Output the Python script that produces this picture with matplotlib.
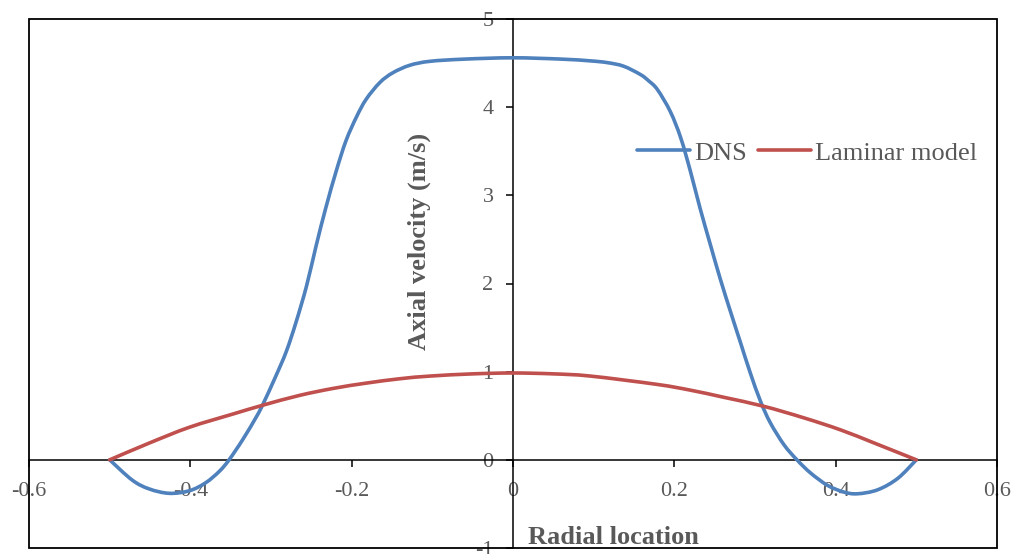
import matplotlib
matplotlib.use("Agg")
import matplotlib.pyplot as plt
from matplotlib.patches import Rectangle, PathPatch
from matplotlib.path import Path
from matplotlib.lines import Line2D
from matplotlib.ticker import FixedLocator, FixedFormatter

plt.rcParams["font.family"] = ["Liberation Serif", "DejaVu Serif"]
plt.rcParams["axes.unicode_minus"] = False

# DNS axial velocity profile
dns_r = [-0.500, -0.472, -0.451, -0.426, -0.401, -0.381, -0.364, -0.352, -0.335,
         -0.318, -0.310, -0.294, -0.281, -0.269, -0.256, -0.244, -0.232, -0.219,
         -0.207, -0.194, -0.182, -0.165, -0.149, -0.128, -0.103, -0.060, 0.000,
         0.060, 0.096, 0.117, 0.137, 0.158, 0.168, 0.179, 0.195, 0.208, 0.220,
         0.232, 0.245, 0.257, 0.270, 0.282, 0.294, 0.307, 0.319, 0.336, 0.352,
         0.369, 0.390, 0.410, 0.427, 0.452, 0.477, 0.500]
dns_u = [0.00, -0.23, -0.33, -0.38, -0.35, -0.26, -0.13, 0.00, 0.23,
         0.49, 0.63, 0.95, 1.23, 1.56, 1.97, 2.43, 2.86, 3.28,
         3.62, 3.89, 4.09, 4.28, 4.39, 4.475, 4.52, 4.545, 4.56,
         4.545, 4.525, 4.505, 4.465, 4.37, 4.30, 4.20, 3.95, 3.65, 3.27,
         2.85, 2.43, 2.05, 1.67, 1.33, 0.99, 0.66, 0.42, 0.17, 0.00,
         -0.15, -0.29, -0.365, -0.385, -0.34, -0.21, 0.00]

# Laminar model profile
lam_r = [-0.500, -0.451, -0.401, -0.347, -0.310, -0.265, -0.223, -0.182, -0.140,
         -0.103, -0.050, 0.000, 0.050, 0.096, 0.179, 0.220, 0.261, 0.311, 0.361,
         0.406, 0.448, 0.500]
lam_u = [0.00, 0.19, 0.37, 0.52, 0.62, 0.73, 0.81, 0.87, 0.92,
         0.95, 0.975, 0.985, 0.975, 0.95, 0.855, 0.79, 0.71, 0.607, 0.475,
         0.34, 0.19, 0.00]

x_ticks = [-0.6, -0.4, -0.2, 0.0, 0.2, 0.4, 0.6]
x_labels = ["-0.6", "-0.4", "-0.2", "0", "0.2", "0.4", "0.6"]
y_ticks = [-1, 0, 1, 2, 3, 4, 5]
y_labels = ["-1", "0", "1", "2", "3", "4", "5"]

W, H = 1017, 554
BLUE, RED, GREY = "#4F81BD", "#C0504D", "#595959"
LW = 2.6


def smooth_path(xs, ys):
    """Smoothed line through the points (Catmull-Rom segments as cubic Beziers)."""
    pts = list(zip(xs, ys))
    n = len(pts)
    verts = [pts[0]]
    codes = [Path.MOVETO]
    for i in range(n - 1):
        p0 = pts[i - 1] if i > 0 else pts[i]
        p1 = pts[i]
        p2 = pts[i + 1]
        p3 = pts[i + 2] if i + 2 < n else pts[i + 1]
        c1 = (p1[0] + (p2[0] - p0[0]) / 6, p1[1] + (p2[1] - p0[1]) / 6)
        c2 = (p2[0] - (p3[0] - p1[0]) / 6, p2[1] - (p3[1] - p1[1]) / 6)
        verts += [c1, c2, p2]
        codes += [Path.CURVE4] * 3
    return Path(verts, codes)


fig = plt.figure(figsize=(W / 100, H / 100), dpi=100)
ax = fig.add_axes([29 / W, (H - 548) / H, (997 - 29) / W, (548 - 19) / H])

for xs, ys, col in ((dns_r, dns_u, BLUE), (lam_r, lam_u, RED)):
    ax.add_patch(PathPatch(smooth_path(xs, ys), fill=False, edgecolor=col, lw=LW,
                           capstyle="round", joinstyle="round", zorder=3))

ax.set_xlim(-0.6, 0.6)
ax.set_ylim(-1, 5)

# axes cross at the origin
ax.spines["left"].set_position(("data", 0))
ax.spines["bottom"].set_position(("data", 0))
ax.spines["top"].set_visible(False)
ax.spines["right"].set_visible(False)
for s in ("left", "bottom"):
    ax.spines[s].set_linewidth(1.1)
    ax.spines[s].set_color("black")

# outer frame
ax.add_patch(Rectangle((0, 0), 1, 1, transform=ax.transAxes, fill=False,
                       lw=1.3, edgecolor="black", clip_on=False, zorder=5))

ax.xaxis.set_major_locator(FixedLocator(x_ticks))
ax.xaxis.set_major_formatter(FixedFormatter(x_labels))
ax.yaxis.set_major_locator(FixedLocator(y_ticks))
ax.yaxis.set_major_formatter(FixedFormatter(y_labels))
ax.tick_params(axis="both", direction="out", length=5, width=1.1, color="black",
               labelcolor=GREY, labelsize=16)
ax.tick_params(axis="x", pad=11)
ax.tick_params(axis="y", pad=9)

fig.text(528 / W, (H - 544) / H, "Radial location", fontsize=19, fontweight="bold",
         color=GREY, ha="left", va="baseline")
fig.text(419 / W, 1 - 241 / H, "Axial velocity (m/s)", fontsize=19, fontweight="bold",
         color=GREY, rotation=90, ha="center", va="center")

handles = [Line2D([], [], color=BLUE, lw=LW, solid_capstyle="round"),
           Line2D([], [], color=RED, lw=LW, solid_capstyle="round")]
leg = ax.legend(handles, ["DNS", "Laminar model"], loc="center left",
                bbox_to_anchor=(637 / W, 1 - 153 / H), bbox_transform=fig.transFigure,
                ncol=2, frameon=False, fontsize=19, handlelength=2.0,
                handletextpad=0.17, columnspacing=0.42, borderpad=0, borderaxespad=0)
for t in leg.get_texts():
    t.set_color(GREY)

fig.savefig("out.png", dpi=100)
